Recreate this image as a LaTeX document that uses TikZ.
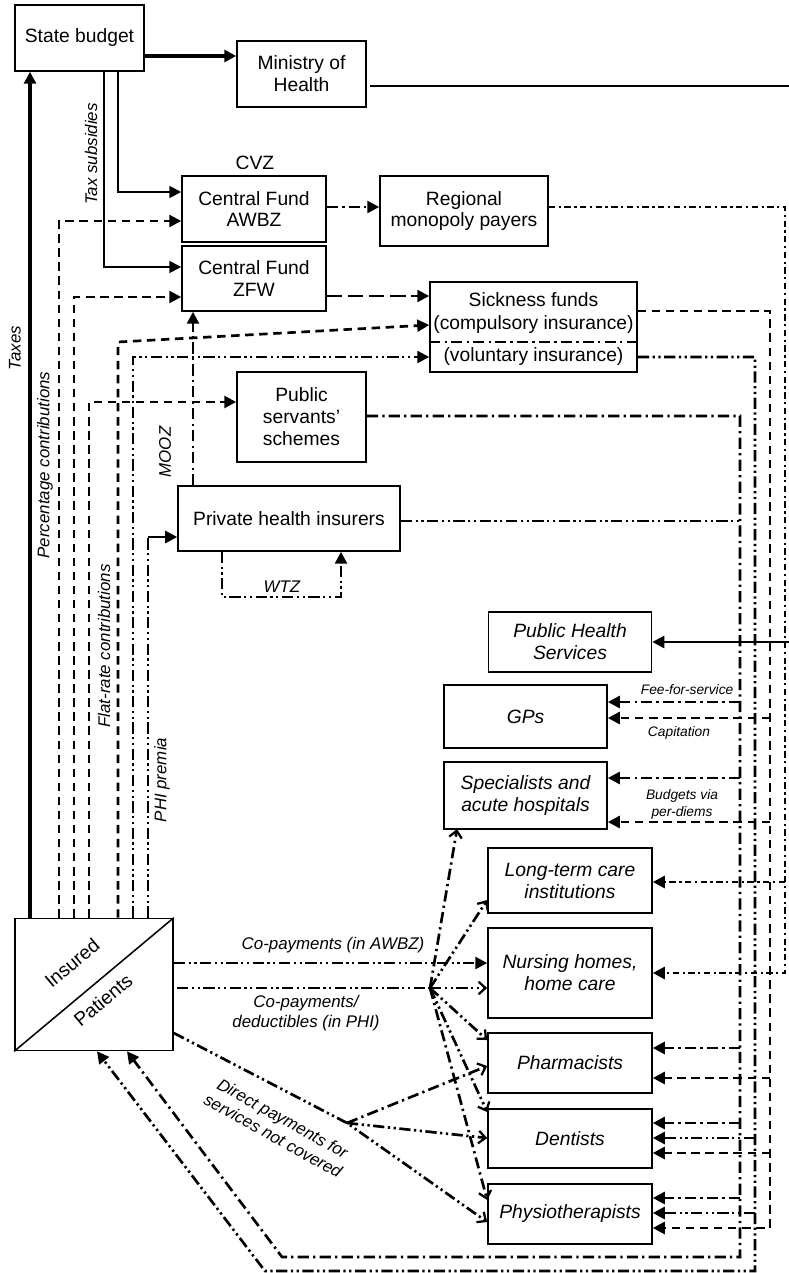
\documentclass[tikz,border=0pt]{standalone}
\usepackage{fontspec}
\setmainfont{Liberation Sans}
\usetikzlibrary{arrows.meta}

\begin{document}
\begin{tikzpicture}[x=0.025cm,y=-0.025cm,
        box/.style={draw,line width=1.1pt,inner sep=1pt,align=center,font=\fontsize{13.7}{15.6}\selectfont},
        ibox/.style={box,font=\fontsize{13.7}{15.6}\selectfont\itshape},
        txt/.style={inner sep=0pt,font=\fontsize{13.7}{15.6}\selectfont},
        lab/.style={inner sep=1pt,align=center,font=\fontsize{12}{14.2}\selectfont\itshape},
        slab/.style={inner sep=1pt,align=center,font=\fontsize{9.8}{12}\selectfont\itshape},
        fl/.style={line width=1.9pt},
        tip/.style={-{Triangle[length=8.5pt,width=8.5pt]}},
        otip/.style={-{Straight Barb[length=5pt,width=9pt,line width=1.6pt]}},
        dsh/.style={fl,dash pattern=on 6pt off 4pt},
        ldsh/.style={fl,dash pattern=on 11pt off 4pt},
        dd/.style={fl,dash pattern=on 8pt off 3pt on 1.6pt off 3pt},
        sdd/.style={fl,dash pattern=on 4.5pt off 2.5pt on 1.6pt off 2.5pt},
        ddd/.style={fl,dash pattern=on 8pt off 2.5pt on 1.6pt off 2.5pt on 1.6pt off 2.5pt}]
        \useasboundingbox (0,0) rectangle (788,1273);
        \node[box,minimum width=3.225cm,minimum height=1.65cm] (sb) at (79.5,38) {State budget};
        \node[box,minimum width=3.225cm,minimum height=1.65cm] (moh) at (301.5,74) {Ministry of\\Health};
        \node[txt] (cvz) at (255,163) {CVZ};
        \node[box,minimum width=3.6cm,minimum height=1.65cm] (awbz) at (254,209) {Central Fund\\AWBZ};
        \node[box,minimum width=3.6cm,minimum height=1.625cm] (zfw) at (254,278.5) {Central Fund\\ZFW};
        \node[box,minimum width=4.2cm,minimum height=1.75cm] (rmp) at (464,211) {Regional\\monopoly payers};
        \node[box,minimum width=5.175cm,minimum height=2.25cm] (sick) at (533.5,327) {};
        \node[txt] (sf) at (533.5,300) {Sickness funds};
        \node[txt] (comp) at (533.5,325) {(compulsory insurance)};
        \node[txt] (vol) at (533.5,357) {(voluntary insurance)};
        \coordinate (dv) at (533.5,342);
        \draw[dd] (sick.west |- dv) -- (sick.east |- dv);
        \node[box,minimum width=3.225cm,minimum height=2.25cm] (pss) at (301.5,417) {Public\\servants’\\schemes};
        \node[box,minimum width=5.55cm,minimum height=1.625cm] (phi) at (289,518.5) {Private health insurers};
        \node[ibox,minimum width=4.075cm,minimum height=1.5cm] (phs) at (570,642) {Public Health\\Services};
        \node[ibox,minimum width=4.075cm,minimum height=1.575cm] (gps) at (525.5,716.5) {GPs};
        \node[ibox,minimum width=4.075cm,minimum height=1.675cm] (spec) at (525.5,795.5) {Specialists and\\acute hospitals};
        \node[ibox,minimum width=4.1cm,minimum height=1.625cm] (ltc) at (570,880.5) {Long-term care\\institutions};
        \node[ibox,minimum width=4.1cm,minimum height=2.25cm] (nh) at (570,973) {Nursing homes,\\home care};
        \node[ibox,minimum width=4.1cm,minimum height=1.5cm] (pha) at (570,1063) {Pharmacists};
        \node[ibox,minimum width=4.1cm,minimum height=1.475cm] (den) at (570,1138.5) {Dentists};
        \node[ibox,minimum width=4.1cm,minimum height=1.5cm] (phy) at (570,1214) {Physiotherapists};
        \node[box,minimum width=3.95cm,minimum height=3.3cm] (ins) at (94,984.5) {};
        \draw[line width=1.1pt] (ins.south west) -- (ins.north east);
        \node[txt,rotate=40] (insd) at (72,963) {Insured};
        \node[txt,rotate=40] (pat) at (103,1000) {Patients};

        \draw[line width=2.3pt,tip] (ins.north -| 30,0) -- (sb.south -| 30,0);
        \node[lab,rotate=90] (taxes) at (15,348) {Taxes};
        \draw[line width=2.3pt,tip] (sb.east |- 0,56) -- (moh.west |- 0,56);
        \coordinate (e1) at (795,86);
        \coordinate (e2) at (795,642);
        \draw[line width=1pt] (370,86) -- (e1) -- (e2);
        \draw[fl,tip] (e2) -- (phs.east);
        \draw[line width=1.4pt,tip] (sb.south -| 118,0) |- (awbz.west |- 0,192);
        \draw[line width=1.4pt,tip] (sb.south -| 104,0) |- (zfw.west |- 0,267);
        \node[lab,rotate=90] (taxs) at (91,154) {Tax subsidies};
        \draw[dsh,tip] (ins.north -| 59,0) |- (awbz.west |- 0,221);
        \draw[dsh,tip] (ins.north -| 74,0) |- (zfw.west |- 0,297);
        \node[lab,rotate=90] (pcon) at (45,465) {Percentage contributions};
        \draw[dsh,tip] (ins.north -| 89,0) |- (pss.west |- 0,402);
        \node[lab,rotate=90] (fcon) at (104,646) {Flat-rate contributions};
        \draw[dsh,tip] (ins.north -| 118,0) -- (118,342) -- (sick.west |- comp);
        \draw[ddd,tip] (ins.north -| 133,0) |- (sick.west |- vol);
        \draw[ddd] (ins.north -| 148,0) -- (148,537);
        \draw[fl,tip] (148,537) -- (phi.west |- 0,537);
        \node[lab,rotate=90] (phip) at (162,780) {PHI premia};
        \draw[dd,tip] (phi.north -| 193,0) -- (zfw.south -| 193,0);
        \node[lab,rotate=90] (mooz) at (165,452) {MOOZ};
        \draw[ddd,tip] (phi.south -| 222,0) |- (341,597) -- (phi.south -| 341,0);
        \node[lab] (wtz) at (282,587) {WTZ};
        \draw[dd,tip] (awbz.east |- 0,207) -- (rmp.west |- 0,207);
        \draw[ldsh,tip] (zfw.east |- 0,296) -- (sick.west |- 0,296);

        \draw[sdd,tip] (rmp.east |- 0,207) -| (785,973) -- (nh.east);
        \draw[sdd,tip] (785,882) -- (ltc.east |- 0,882);
        \draw[dsh,tip] (sick.east |- 0,311) -| (770,1228) -- (phy.east |- 0,1228);
        \draw[dsh,tip] (770,718) -- (gps.east |- 0,718);
        \draw[dsh,tip] (770,822) -- (spec.east |- 0,822);
        \draw[dsh,tip] (770,1078) -- (pha.east |- 0,1078);
        \draw[dsh,tip] (770,1153) -- (den.east |- 0,1153);
        \draw[ddd,tip] (sick.east |- vol) -| (755,1271) -- (265,1271) -- (ins.south -| 97,0);
        \draw[ddd,tip] (755,1138) -- (den.east |- 0,1138);
        \draw[ddd,tip] (755,1213) -- (phy.east |- 0,1213);
        \draw[ddd] (phi.east |- 0,521) -- (740,521);
        \draw[dd,tip] (pss.east |- 0,416) -| (740,1257) -- (282,1257) -- (ins.south -| 127,0);
        \draw[dd,tip] (740,702) -- (gps.east |- 0,702);
        \draw[dd,tip] (740,778) -- (spec.east |- 0,778);
        \draw[dd,tip] (740,1048) -- (pha.east |- 0,1048);
        \draw[dd,tip] (740,1123) -- (den.east |- 0,1123);
        \draw[dd,tip] (740,1198) -- (phy.east |- 0,1198);
        \node[slab,anchor=south east] (ffs) at (735,696) {Fee-for-service};
        \node[slab] (cap) at (679,733) {Capitation};
        \node[slab] (bud) at (682,804) {Budgets via\\per-diems};

        \draw[ddd,tip] (ins.east |- 0,963) -- (nh.west |- 0,963);
        \node[lab] (cop1) at (333,945) {Co-payments (in AWBZ)};
        \coordinate (hub) at (430,988);
        \draw[ddd] (177,988) -- (hub);
        \node[lab] (cop2) at (306,1013) {Co-payments/\\deductibles (in PHI)};
        \draw[dd,otip] (hub) -- (457,829);
        \draw[ddd,otip] (hub) -- (ltc.west |- 0,900);
        \draw[ddd,otip] (hub) -- (nh.west |- hub);
        \draw[ddd,otip] (hub) -- (pha.west |- 0,1040);
        \draw[ddd,otip] (hub) -- (den.west |- 0,1112);
        \draw[dd,otip] (hub) -- (phy.west |- 0,1200);
        \coordinate (hub2) at (347,1123);
        \draw[ddd,otip] (ins.east |- 0,1033) -- (hub2) -- (phy.west |- 0,1222);
        \draw[dd,otip] (hub2) -- (pha.west |- 0,1066);
        \draw[ddd,otip] (hub2) -- (den.west |- 0,1138);
        \node[lab,rotate=-29] (dir) at (278,1127) {Direct payments for\\services not covered};
\end{tikzpicture}
\end{document}
